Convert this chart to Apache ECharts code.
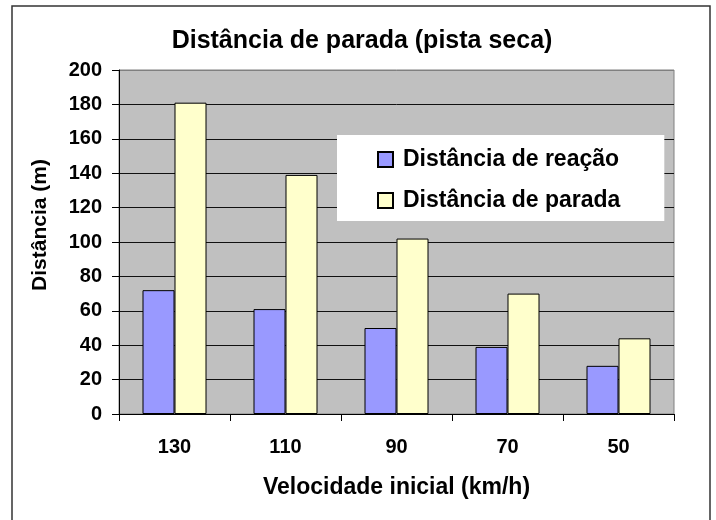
<!DOCTYPE html>
<html>
<head>
<meta charset="utf-8">
<script src="https://cdn.jsdelivr.net/npm/echarts@6/dist/echarts.min.js"></script>
<style>html,body{margin:0;padding:0;background:#fff;}#c{width:716px;height:520px;}</style>
</head>
<body>
<div id="c"></div>
<script>
var categories = ['130', '110', '90', '70', '50'];
var reacao = [72, 61, 50, 39, 28];
var parada = [181, 139, 102, 70, 44];
var seriesNames = ['Distância de reação', 'Distância de parada'];
var yTicks = { min: 0, max: 200, interval: 20 };

var FONT = '"Liberation Sans", Arial, sans-serif';
var chart = echarts.init(document.getElementById('c'), null, { renderer: 'canvas' });
var splitColors = [];
for (var i = 0; i <= (yTicks.max - yTicks.min) / yTicks.interval; i++) splitColors.push('#111');
splitColors[splitColors.length - 1] = '#808080';

chart.setOption({
  animation: false,
  backgroundColor: '#fff',
  graphic: [{
    type: 'rect', z: 100, silent: true,
    shape: { x: 12, y: 6, width: 698, height: 530 },
    style: { fill: 'none', stroke: '#333', lineWidth: 1.5 }
  }],
  title: {
    text: 'Distância de parada (pista seca)',
    left: 357, top: 24, textAlign: 'center',
    textStyle: { fontFamily: FONT, fontSize: 25, fontWeight: 'bold', color: '#000' }
  },
  grid: {
    left: 119, right: 42, top: 70, bottom: 106,
    show: true, backgroundColor: '#c0c0c0', borderColor: '#808080', borderWidth: 1
  },
  legend: {
    orient: 'vertical', left: 337, top: 135,
    backgroundColor: '#fff',
    padding: [13, 44, 9, 40],
    itemWidth: 15, itemHeight: 15, itemGap: 18,
    icon: 'rect',
    textStyle: { fontFamily: FONT, fontSize: 23, fontWeight: 'bold', color: '#000', lineHeight: 20, padding: [0, 0, 0, 5] },
    data: seriesNames
  },
  xAxis: {
    type: 'category', data: categories,
    name: 'Velocidade inicial (km/h)', nameLocation: 'middle', nameGap: 62,
    nameTextStyle: { fontFamily: FONT, fontSize: 23, fontWeight: 'bold', color: '#000' },
    axisLine: { lineStyle: { color: '#000', width: 1 } },
    axisTick: { show: true, length: 7, inside: false, lineStyle: { color: '#000' } },
    axisLabel: { margin: 23, fontFamily: FONT, fontSize: 20, fontWeight: 'bold', color: '#000' }
  },
  yAxis: {
    type: 'value', min: yTicks.min, max: yTicks.max, interval: yTicks.interval,
    name: 'Distância (m)', nameLocation: 'middle', nameGap: 68, nameRotate: 90,
    nameTextStyle: { fontFamily: FONT, fontSize: 21, fontWeight: 'bold', color: '#000', padding: [0, 0, 0, 34] },
    axisLine: { show: true, lineStyle: { color: '#000', width: 1 } },
    axisTick: { show: true, length: 7, inside: false, lineStyle: { color: '#000' } },
    axisLabel: { margin: 17, fontFamily: FONT, fontSize: 20, fontWeight: 'bold', color: '#000' },
    splitLine: { show: true, lineStyle: { color: splitColors, width: 1 } }
  },
  series: [
    {
      name: seriesNames[0], type: 'bar', data: reacao,
      barWidth: 32, barGap: '0%',
      itemStyle: { color: '#9999ff', borderColor: '#000', borderWidth: 1 }
    },
    {
      name: seriesNames[1], type: 'bar', data: parada,
      barWidth: 32, barGap: '0%',
      itemStyle: { color: '#ffffcc', borderColor: '#000', borderWidth: 1 }
    }
  ]
});
</script>
</body>
</html>
